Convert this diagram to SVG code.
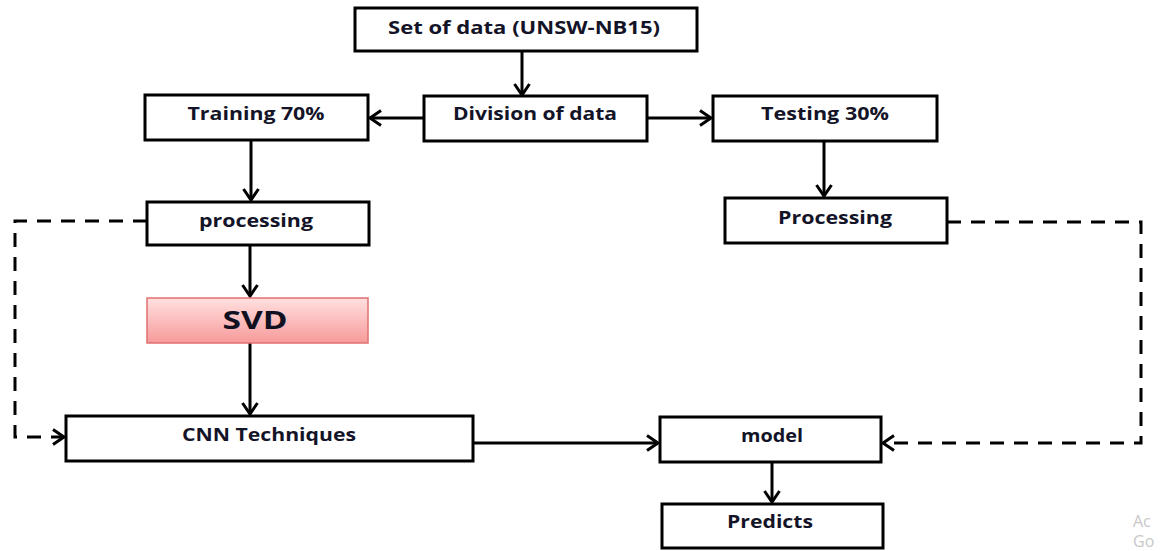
<svg xmlns="http://www.w3.org/2000/svg" width="1169" height="551" viewBox="0 0 1169 551">
  <style>
    .box { fill: #ffffff; stroke: #000000; stroke-width: 3; }
    .lbl { font-family: "Open Sans", "Liberation Sans", sans-serif; font-weight: bold; font-size: 18px; fill: #141428; text-anchor: middle; }
    .big { font-size: 25px; fill: #101020; }
    .wire { fill: none; stroke: #000000; stroke-width: 3; }
    .dash { stroke-dasharray: 14 10; }
    .mark { font-family: "Open Sans", "Liberation Sans", sans-serif; font-size: 16px; fill: #c8c8c8; }
  </style>
  <defs>
    <!-- open chevron arrowhead shared by all connectors -->
    <marker id="chev" viewBox="0 0 16 18" refX="13" refY="9" markerWidth="16" markerHeight="18" markerUnits="userSpaceOnUse" orient="auto">
      <path d="M2,1.5 L13,9 L2,16.5" fill="none" stroke="#000" stroke-width="3"/>
    </marker>
    <linearGradient id="svdFill" x1="0" y1="0" x2="0" y2="1">
      <stop offset="0" stop-color="#ffe0e0"/>
      <stop offset="1" stop-color="#f79a9a"/>
    </linearGradient>
  </defs>

  <rect width="1169" height="551" fill="#ffffff"/>

  <g id="connectors">
    <line class="wire" x1="522" y1="51" x2="522" y2="95" marker-end="url(#chev)"/>
    <line class="wire" x1="423" y1="118" x2="370" y2="118" marker-end="url(#chev)"/>
    <line class="wire" x1="647" y1="118" x2="711" y2="118" marker-end="url(#chev)"/>
    <line class="wire" x1="251" y1="140" x2="251" y2="200" marker-end="url(#chev)"/>
    <line class="wire" x1="824" y1="141" x2="824" y2="196" marker-end="url(#chev)"/>
    <line class="wire" x1="250" y1="245" x2="250" y2="296" marker-end="url(#chev)"/>
    <line class="wire" x1="250" y1="343" x2="250" y2="414" marker-end="url(#chev)"/>
    <line class="wire" x1="473" y1="443" x2="658" y2="443" marker-end="url(#chev)"/>
    <line class="wire" x1="772" y1="462" x2="772" y2="502" marker-end="url(#chev)"/>
    <path class="wire dash" d="M147,221 H15 V437 H64" marker-end="url(#chev)"/>
    <path class="wire dash" d="M947,222 H1141 V443 H883" marker-end="url(#chev)"/>
  </g>

  <g id="dataset">
    <rect class="box" x="355" y="8" width="342" height="43"/>
    <text class="lbl" x="524" y="34" textLength="272" lengthAdjust="spacingAndGlyphs">Set of data (UNSW-NB15)</text>
  </g>
  <g id="division">
    <rect class="box" x="424" y="96" width="223" height="45"/>
    <text class="lbl" x="535" y="120" textLength="164" lengthAdjust="spacingAndGlyphs">Division of data</text>
  </g>
  <g id="training">
    <rect class="box" x="145" y="95" width="223" height="45"/>
    <text class="lbl" x="256" y="120" textLength="137" lengthAdjust="spacingAndGlyphs">Training 70%</text>
  </g>
  <g id="testing">
    <rect class="box" x="713" y="96" width="224" height="45"/>
    <text class="lbl" x="825" y="120" textLength="128" lengthAdjust="spacingAndGlyphs">Testing 30%</text>
  </g>
  <g id="processing-train">
    <rect class="box" x="147" y="202" width="222" height="43"/>
    <text class="lbl" x="256" y="227" textLength="114" lengthAdjust="spacingAndGlyphs">processing</text>
  </g>
  <g id="processing-test">
    <rect class="box" x="725" y="198" width="222" height="45"/>
    <text class="lbl" x="835" y="224" textLength="114" lengthAdjust="spacingAndGlyphs">Processing</text>
  </g>
  <g id="svd">
    <rect x="147" y="298" width="221" height="45" fill="url(#svdFill)" stroke="#e07070" stroke-width="1.5"/>
    <text class="lbl big" x="255" y="329" textLength="65" lengthAdjust="spacingAndGlyphs">SVD</text>
  </g>
  <g id="cnn">
    <rect class="box" x="66" y="416" width="407" height="45"/>
    <text class="lbl" x="269" y="441" textLength="174" lengthAdjust="spacingAndGlyphs">CNN Techniques</text>
  </g>
  <g id="model">
    <rect class="box" x="660" y="417" width="221" height="45"/>
    <text class="lbl" x="772" y="442" textLength="62" lengthAdjust="spacingAndGlyphs">model</text>
  </g>
  <g id="predicts">
    <rect class="box" x="662" y="504" width="221" height="44"/>
    <text class="lbl" x="770" y="528" textLength="86" lengthAdjust="spacingAndGlyphs">Predicts</text>
  </g>

  <text class="mark" x="1133" y="527">Ac</text>
  <text class="mark" x="1133" y="547" font-size="14">Go</text>
</svg>
